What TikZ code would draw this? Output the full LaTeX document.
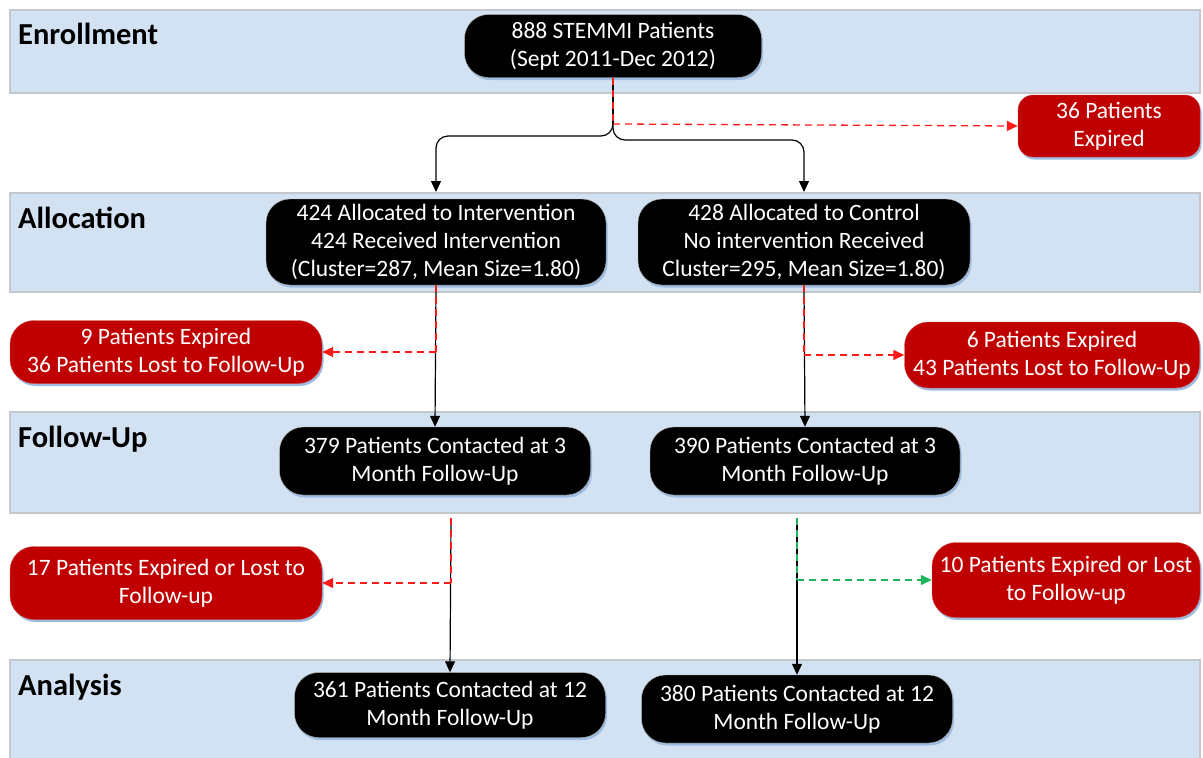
\documentclass[tikz,border=0pt]{standalone}
\usepackage{fontspec}
\setmainfont{Carlito}
\usetikzlibrary{arrows.meta,shadows}
\definecolor{bandblue}{HTML}{D2E2F2}
\definecolor{bandgray}{HTML}{C4C8CC}
\definecolor{boxred}{HTML}{C00000}
\definecolor{dashred}{HTML}{FF1A1A}
\definecolor{dashgreen}{HTML}{1FB45A}
\definecolor{shadowblue}{HTML}{9DBCE0}
\begin{document}
\begin{tikzpicture}[x=1pt,y=-1pt,
  band/.style={fill=bandblue, draw=bandgray, line width=1.2pt},
  title/.style={anchor=west, font=\fontsize{30.5}{34}\selectfont\bfseries, inner sep=0pt},
  basebox/.style={align=center, text=white, inner sep=0pt, font=\fontsize{23.5}{28}\selectfont,
    drop shadow={shadow xshift=1.5pt, shadow yshift=-2.5pt, fill=shadowblue, opacity=1}},
  blk/.style={basebox, fill=black, draw=gray!60, rounded corners=24pt},
  redbox/.style={basebox, fill=boxred, draw=boxred!70, rounded corners=24pt},
  conn/.style={black, line width=1.2pt},
  arr/.style={conn, -{Triangle[length=11pt,width=10pt]}},
  rdash/.style={dashred, line width=1.3pt, dash pattern=on 7pt off 5pt},
  rarr/.style={rdash, -{Triangle[length=11pt,width=10pt]}},
  gdash/.style={dashgreen, line width=1.3pt, dash pattern=on 7pt off 5pt},
  garr/.style={gdash, -{Triangle[length=11pt,width=10pt]}}
]
\useasboundingbox (0,0) rectangle (1203,758);
% bands
\path[band] (10,10) rectangle (1200,93);
\path[band] (10,193) rectangle (1200,292);
\path[band] (10,412) rectangle (1200,513);
\path[band] (10,660) rectangle (1200,762);
\node[title] (tEnr) at (18,34) {Enrollment};
\node[title] (tAll) at (18,218) {Allocation};
\node[title] (tFol) at (18,439) {Follow-Up};
\node[title] (tAna) at (18,687) {Analysis};
% nodes
\node[blk, minimum width=297pt, minimum height=63pt] (enr) at (613,46) {888 STEMMI Patients\\(Sept 2011-Dec 2012)};
\node[redbox, rounded corners=15pt, minimum width=182pt, minimum height=62pt] (exp36) at (1109,126) {36 Patients\\Expired};
\node[blk, minimum width=340pt, minimum height=86pt] (intv) at (436,242) {424 Allocated to Intervention\\424 Received Intervention\\(Cluster=287, Mean Size=1.80)};
\node[blk, minimum width=332pt, minimum height=86pt] (ctrl) at (804,242) {428 Allocated to Control\\No intervention Received\\Cluster=295, Mean Size=1.80)};
\node[redbox, minimum width=312pt, minimum height=63pt] (lossL1) at (166,352) {9 Patients Expired\\36 Patients Lost to Follow-Up};
\node[redbox, minimum width=295pt, minimum height=66pt] (lossR1) at (1052,355) {6 Patients Expired\\43 Patients Lost to Follow-Up};
\node[blk, minimum width=311pt, minimum height=68pt] (fuL) at (435,461) {379 Patients Contacted at 3\\Month Follow-Up};
\node[blk, minimum width=310pt, minimum height=68pt] (fuR) at (805,461) {390 Patients Contacted at 3\\Month Follow-Up};
\node[redbox, minimum width=312pt, minimum height=73pt] (lossL2) at (166,583) {17 Patients Expired or Lost to\\Follow-up};
\node[redbox, minimum width=268pt, minimum height=75pt] (lossR2) at (1066,580) {10 Patients Expired or Lost\\to Follow-up};
\node[blk, minimum width=311pt, minimum height=65pt] (anL) at (450,705) {361 Patients Contacted at 12\\Month Follow-Up};
\node[blk, minimum width=311pt, minimum height=68pt] (anR) at (797,709) {380 Patients Contacted at 12\\Month Follow-Up};
% coordinates
\coordinate (split) at (613,124);
\coordinate (aL) at (436,192);
\coordinate (aR) at (804,192);
\coordinate (sL1) at (436,352);
\coordinate (sR1) at (804,355);
\coordinate (startL2) at (451,518);
\coordinate (startR2) at (797,518);
\coordinate (sL2) at (451,583);
\coordinate (sR2) at (797,580);
% enrollment -> allocation
\draw[conn] (enr.south) -- (split);
\draw[rdash] (enr.south) -- (split);
\draw[arr, rounded corners=12pt] (split) -- (613,136) -- (436,136) -- (aL);
\draw[arr, rounded corners=12pt] (split) -- (613,140) -- (804,140) -- (aR);
\draw[rarr] (split) -- (exp36.west);
% allocation -> follow-up
\draw[arr] (intv.south) -- (fuL.north);
\draw[rdash] (intv.south) -- (sL1);
\draw[rarr] (sL1) -- (lossL1.east);
\draw[arr] (ctrl.south) -- (fuR.north);
\draw[rdash] (ctrl.south) -- (sR1);
\draw[rarr] (sR1) -- (lossR1.west);
% follow-up -> analysis
\draw[arr] (startL2) -- (anL.north);
\draw[rdash] (startL2) -- (sL2);
\draw[rarr] (sL2) -- (lossL2.east);
\draw[arr] (startR2) -- (anR.north);
\draw[gdash] (startR2) -- (sR2);
\draw[garr] (sR2) -- (lossR2.west);
\end{tikzpicture}
\end{document}
